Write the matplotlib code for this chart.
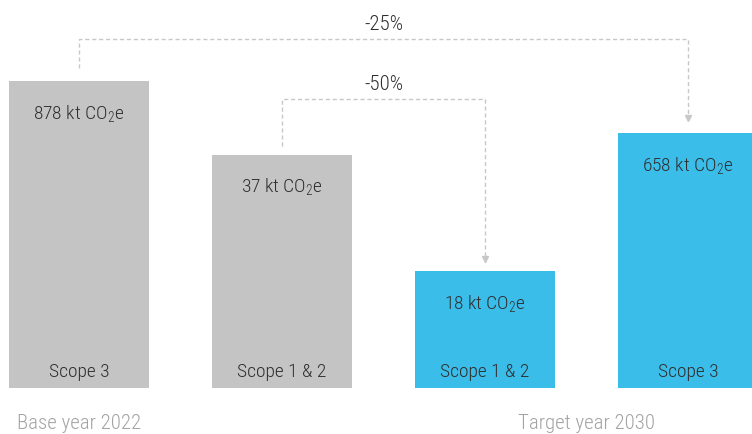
import matplotlib

matplotlib.use("Agg")
import matplotlib.pyplot as plt
from matplotlib import font_manager

# data
scopes = ["Scope 3", "Scope 1 & 2", "Scope 1 & 2", "Scope 3"]
emissions_kt = [878, 37, 18, 658]
# bar heights are drawn illustratively in the source, not to scale
bar_heights = [307, 233, 117, 255]
periods = ["base", "base", "target", "target"]
period_labels = {"base": "Base year 2022", "target": "Target year 2030"}
reductions = [(0, 3, "-25%"), (1, 2, "-50%")]

GREY = "#c4c4c4"
BLUE = "#3bbde9"
DASH = "#c8c8c8"
TEXT = "#2f2f2f"

names = {f.name for f in font_manager.fontManager.ttflist}
wanted = ["Roboto Condensed", "Open Sans Condensed", "Liberation Sans Narrow",
          "Roboto", "DejaVu Sans"]
family = [f for f in wanted if f in names]
plt.rcParams["font.family"] = family
plt.rcParams["font.weight"] = "light"
plt.rcParams["mathtext.default"] = "regular"

fig = plt.figure(figsize=(7.52, 4.35), dpi=100)
ax = fig.add_axes([0, 0, 1, 1])
ax.set_xlim(-0.389, 3.315)
ax.set_ylim(-46, 389)
ax.axis("off")

x = list(range(len(scopes)))
colors = [GREY if p == "base" else BLUE for p in periods]
ax.bar(x, bar_heights, width=0.69, color=colors, linewidth=0)

for xi, h, v, s in zip(x, bar_heights, emissions_kt, scopes):
    ax.text(xi, h - 31, f"{v} kt CO$_2$e", ha="center", va="center",
            fontsize=14, color=TEXT)
    ax.text(xi, 17, s, ha="center", va="center", fontsize=14, color=TEXT)

# period labels under the bars
for key, lab in period_labels.items():
    idx = [i for i, p in enumerate(periods) if p == key]
    cx = sum(idx) / len(idx) if key == "target" else idx[0]
    ax.text(cx, -35, lab, ha="center", va="center", fontsize=15, color="#a3a3a3")

# reduction brackets
top_levels = [349, 289]
for (i, j, lab), ytop in zip(reductions, top_levels):
    y_start = bar_heights[i] + (13 if i == 0 else 9)
    y_end = bar_heights[j] + (12 if j == 3 else 9)
    ax.plot([x[i], x[i], x[j], x[j]], [y_start, ytop, ytop, y_end],
            color=DASH, linewidth=1, linestyle=(0, (3, 2)))
    ax.plot(x[j], y_end + 3, marker="v", markersize=5, color=DASH, linewidth=0)
    ax.text((x[i] + x[j]) / 2, ytop + 16, lab, ha="center", va="center",
            fontsize=15, color=TEXT)

fig.savefig("out.png", dpi=100)
plt.close(fig)
